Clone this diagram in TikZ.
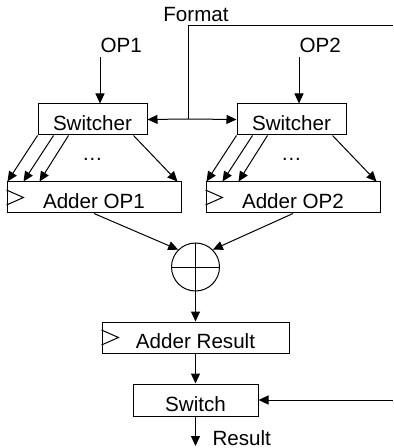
\documentclass[tikz,border=0pt]{standalone}
\usepackage{fontspec}
\setmainfont{Liberation Sans}
\usepackage{tikz}
\usetikzlibrary{arrows.meta, calc, positioning}
\tikzset{
  blk/.style={draw, line width=0.5pt, inner sep=0pt, minimum height=15.5pt, text height=11pt, text depth=0pt},
  arr/.style={-{Triangle[length=5pt,width=4.5pt]}, line width=0.5pt},
  lbl/.style={inner sep=0pt},
}

\begin{document}
\begin{tikzpicture}[x=0.5pt, y=-0.5pt, font=\fontsize{10.3}{12}\selectfont, line width=0.5pt]
  \useasboundingbox (0,0) rectangle (393,448);
  % inputs
  \node[lbl] (fmtlbl) at (196,15) {Format};
  \node[lbl, anchor=south west] (op1) at (100,53) {OP1};
  \node[lbl, anchor=south west] (op2) at (299,53) {OP2};
  \coordinate (fmtin) at (393,26);
  \coordinate (fmt) at (188,119);
  % Switchers
  \node[blk, minimum width=54.5pt] (sw1) at (92.5,119.5) {Switcher};
  \node[blk, minimum width=54.5pt] (sw2) at (291.5,119.5) {Switcher};
  % Adders
  \node[blk, minimum width=87pt] (add1) at (94,197.5) {Adder OP1};
  \node[blk, minimum width=87pt] (add2) at (293,197.5) {Adder OP2};
  \node[draw, circle, minimum size=24pt, inner sep=0pt] (sum) at (195.5,267) {};
  \node[blk, minimum width=93.5pt] (ares) at (195.5,337.5) {Adder Result};
  \node[blk, minimum width=62.5pt, minimum height=16pt] (sel) at (195.5,400) {Switch};
  \coordinate (selin) at (393,400);
  \coordinate (res) at (195.5,446);
  \node[lbl, anchor=west] (reslbl) at (212,438) {Result};
  % clock marks
  \foreach \b in {add1,add2,ares}
    \draw ($(\b.west)+(0,-7.5)$) -- ($(\b.west)+(17,0)$) -- ($(\b.west)+(0,7.5)$);
  % operands and format
  \draw[arr] ([yshift=-2pt]op1.south west) -- (op1.south west |- sw1.north);
  \draw[arr] ([yshift=-2pt]op2.south west) -- (op2.south west |- sw2.north);
  \draw (fmtin) -- (fmt |- fmtin) -- (fmt);
  \draw[arr] (fmt) -- (sw1.east);
  \draw[arr] (fmt) -- (sw2.west);
  % switcher to adder
  \foreach \s/\a in {sw1/add1, sw2/add2} {
    \draw[arr] (\s.south west) -- ($(\a.north west)+(1,0)$);
    \draw[arr] ($(\s.south west)+(16,0)$) -- ($(\a.north west)+(17,0)$);
    \draw[arr] ($(\s.south west)+(31,0)$) -- ($(\a.north west)+(33,0)$);
    \draw[arr] ($(\s.south east)+(-14,0)$) -- ($(\a.north east)+(-4,0)$);
    \node[lbl] at ($(\s.south)+(0,24)$) {…};
  }
  % sum and result
  \draw (sum.north) -- (sum.south) (sum.west) -- (sum.east);
  \draw[arr] (add1.south) -- (sum.135);
  \draw[arr] (add2.south) -- (sum.45);
  \draw[arr] (sum.south) -- (ares.north);
  \draw[arr] (ares.south) -- (sel.north);
  \draw[arr] (selin) -- (sel.east);
  \draw[arr] (sel.south) -- (res);
\end{tikzpicture}
\end{document}
